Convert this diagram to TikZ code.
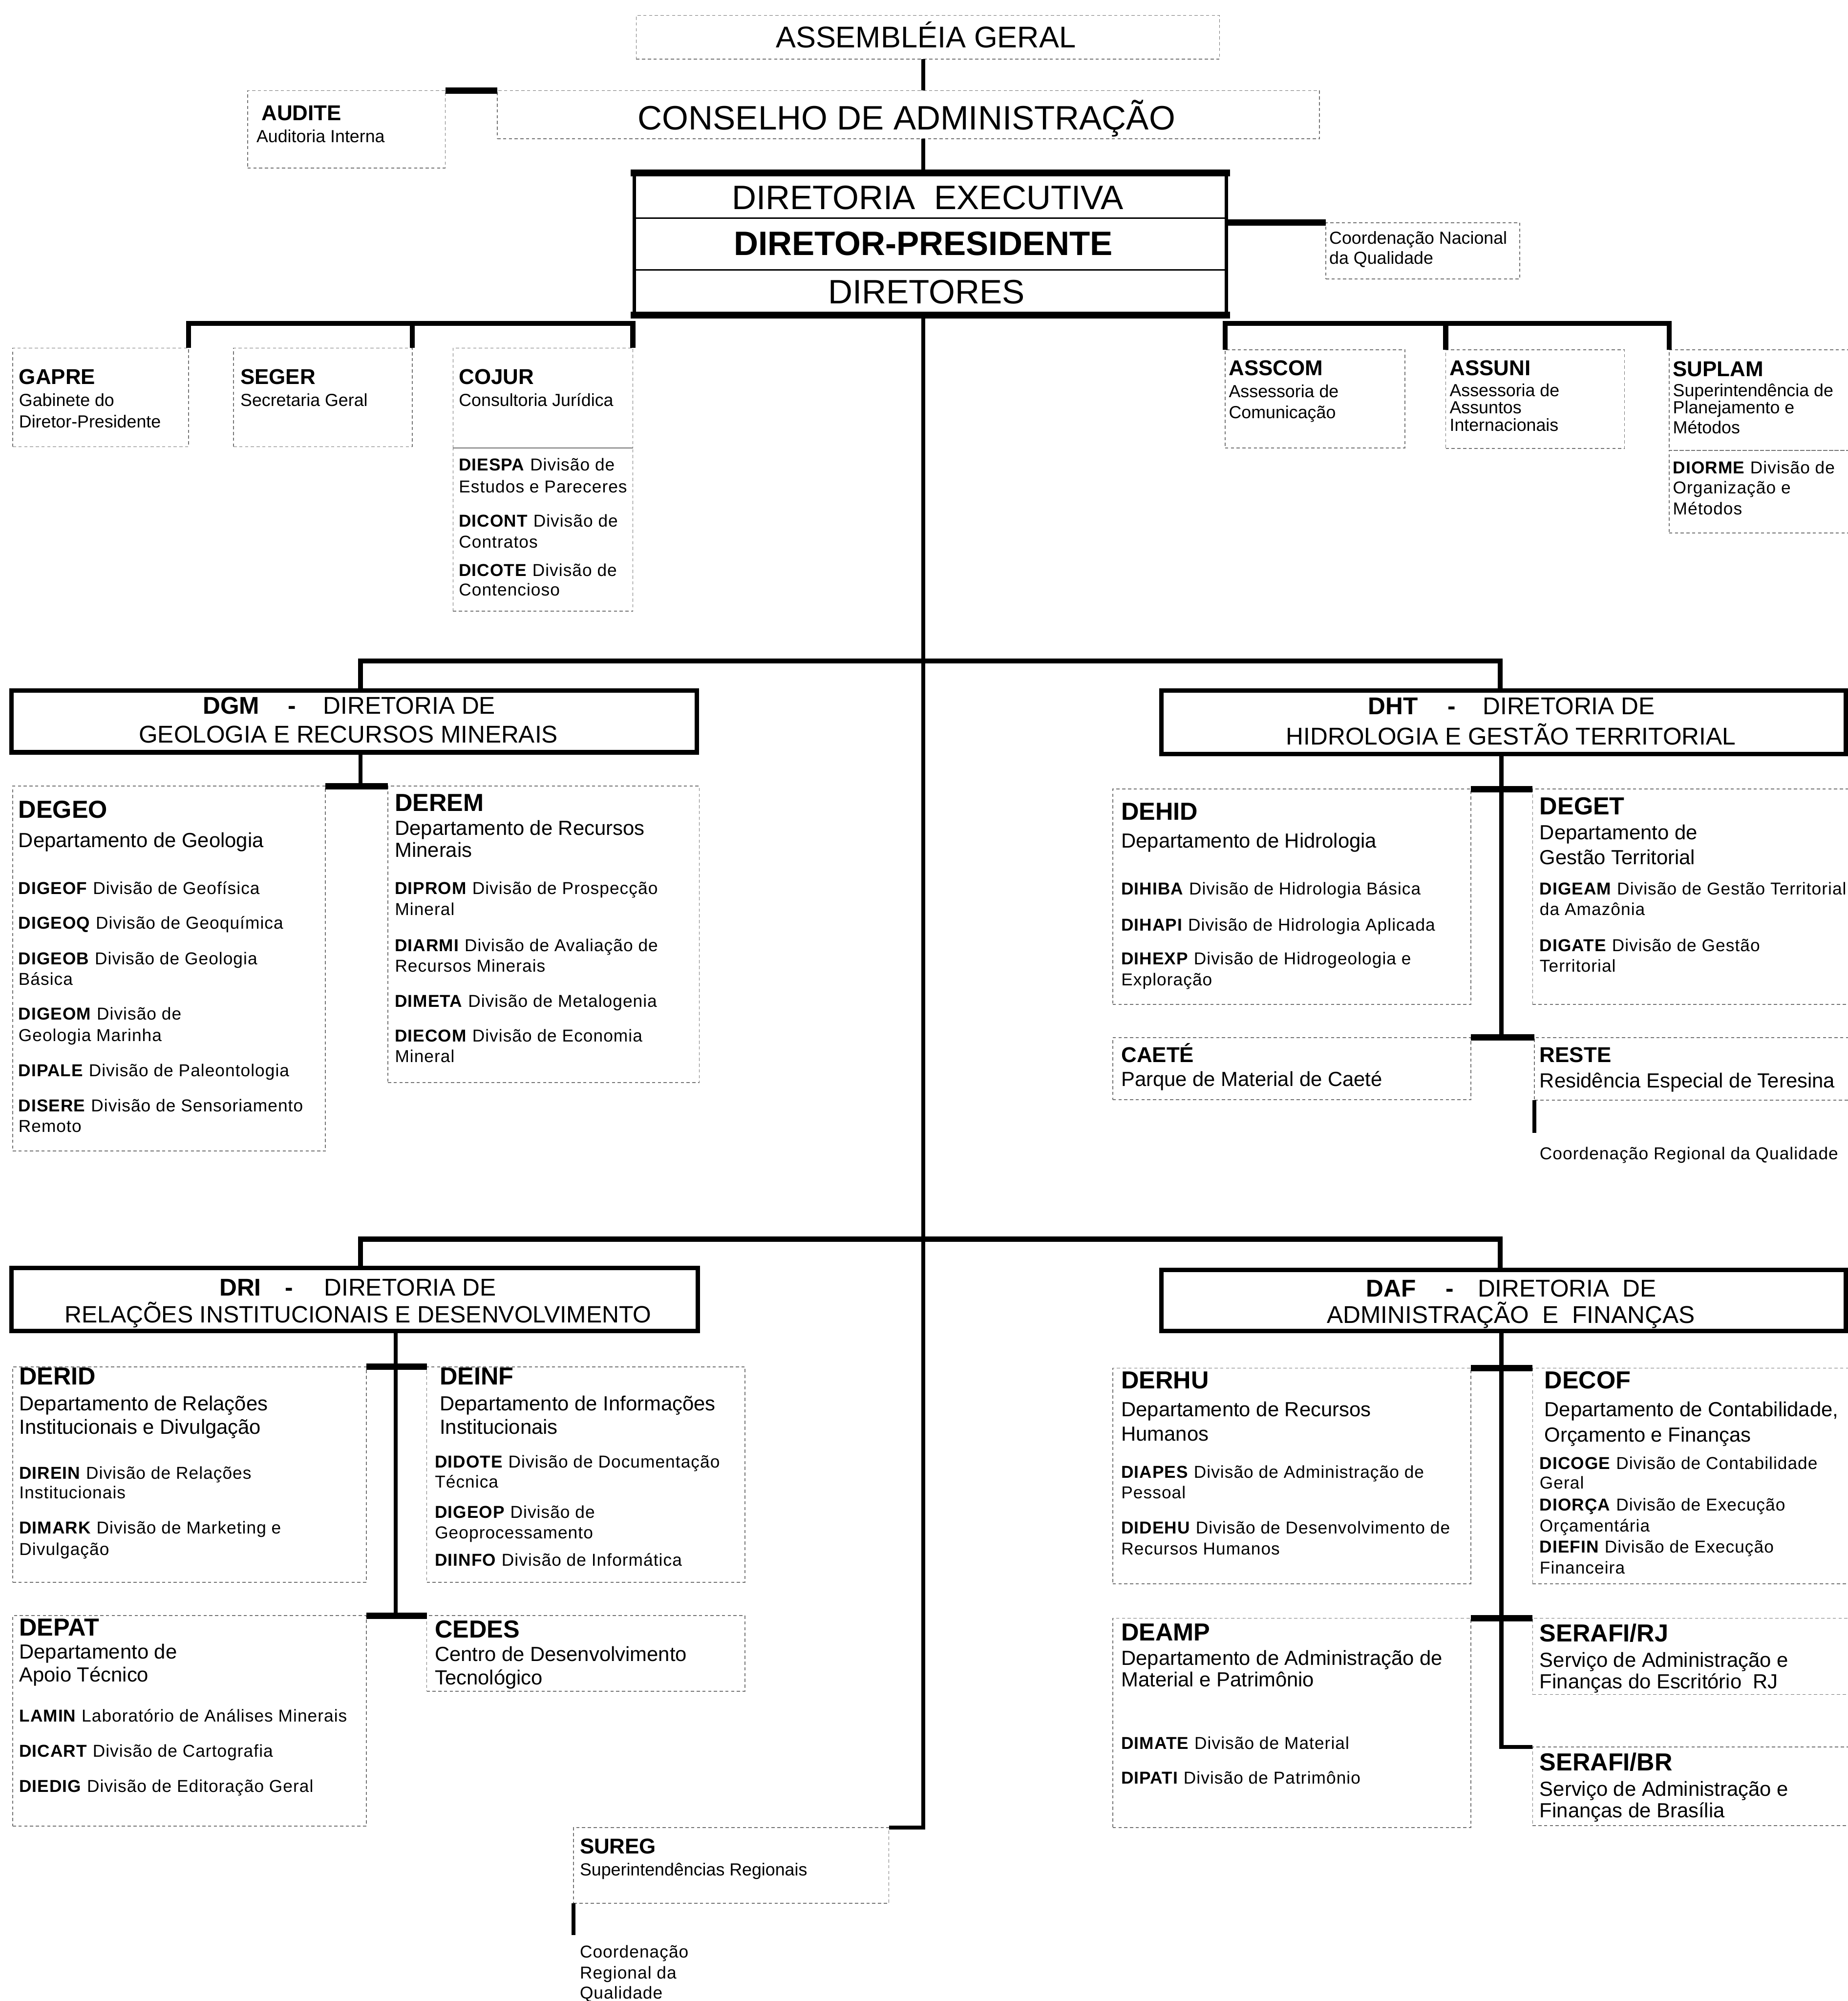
\documentclass[tikz,border=0pt]{standalone}
\usepackage{fontspec}
\setmainfont{Liberation Sans}
\newfontfamily\spfont[LetterSpace=3]{Liberation Sans}
\usetikzlibrary{calc}
\newcounter{tx}
\newcommand\tx[3][]{\stepcounter{tx}\node[lbl,#1] (t\arabic{tx}) at (#2) {#3};}
\newcommand\orgbox[6][]{\node[#1,minimum width={(#5)-(#3)},minimum height={(#6)-(#4)}] (#2) at (#3,#4) {};}
\tikzset{
 lbl/.style={anchor=base west,inner sep=0pt,outer sep=0pt},
 cen/.style={anchor=base},
 big/.style={font=\fontsize{26.5}{30}\selectfont},
 bigb/.style={font=\fontsize{26.5}{30}\selectfont\bfseries},
 asmf/.style={font=\fontsize{23.5}{28}\selectfont},
 ttl/.style={font=\fontsize{19}{22}\selectfont},
 ttlb/.style={font=\fontsize{19}{22}\selectfont\bfseries},
 ucode/.style={font=\fontsize{16.8}{20}\selectfont\bfseries},
 dcode/.style={font=\fontsize{19.3}{22}\selectfont\bfseries},
 dname/.style={font=\fontsize{16}{19}\selectfont},
 sn/.style={font=\fontsize{13.7}{16}\selectfont},
 sm/.style={font=\spfont\fontsize{13.5}{16}\selectfont},
 dbox/.style={draw=black!55,line width=0.6pt,dash pattern=on 2.5pt off 2pt,anchor=north west,inner sep=0pt,outer sep=0pt},
 tbox/.style={draw=black,line width=3.5pt,anchor=north west,inner sep=0pt,outer sep=0pt},
 conn/.style={draw=black,line width=3.2pt},
 bus/.style={draw=black,line width=4pt},
 stub/.style={draw=black,line width=5pt},
}
\begin{document}
\begin{tikzpicture}[x=1pt,y=-1pt]
\useasboundingbox (0,0) rectangle (1448,1568);
\fill[white] (0,0) rectangle (1448,1568);

% ---------- boxes ----------
\orgbox[dbox]{asm}{498.6}{12.1}{955.7}{46.4}
\orgbox[dbox]{cons}{389.7}{71}{1034}{108.7}
\orgbox[dbox]{aud}{194}{71}{349}{131.6}
\orgbox[tbox,line width=2.5pt]{dir}{497}{135.5}{961}{247}
\orgbox[dbox]{cnq}{1039}{174.5}{1191}{218.5}
\orgbox[dbox]{gapre}{10}{272.7}{147.7}{350}
\orgbox[dbox]{seger}{183}{272.7}{323}{350}
\orgbox[dbox]{cojur}{355}{272.7}{496}{351}
\orgbox[dbox]{cojdiv}{355}{351}{496}{479}
\orgbox[dbox]{asscom}{960}{274}{1101}{351}
\orgbox[dbox]{assuni}{1133}{274}{1273}{351.5}
\orgbox[dbox]{suplam}{1308}{274}{1452}{353}
\orgbox[dbox]{diorme}{1308}{353}{1452}{417.6}

\orgbox[tbox]{dgm}{9}{541}{546}{589.5}
\orgbox[dbox]{degeo}{10}{616}{255}{902}
\orgbox[dbox]{derem}{304}{616}{548}{848.4}

\orgbox[tbox]{dht}{910}{541}{1446.5}{591}
\orgbox[dbox]{dehid}{872}{618.3}{1152.6}{787}
\orgbox[dbox]{deget}{1201}{618.3}{1452}{787}
\orgbox[dbox]{caete}{872}{813}{1152.6}{861.8}
\orgbox[dbox]{reste}{1202.5}{813}{1452}{862}

\orgbox[tbox]{dri}{9}{993.5}{547}{1043}
\orgbox[dbox]{derid}{10}{1071}{287}{1240}
\orgbox[dbox]{deinf}{334.4}{1071}{583.7}{1240}
\orgbox[dbox]{depat}{10}{1266}{287}{1431}
\orgbox[dbox]{cedes}{334.4}{1266}{583.7}{1325.2}

\orgbox[tbox]{daf}{910}{995}{1446.5}{1043}
\orgbox[dbox]{derhu}{872}{1072}{1152.6}{1241}
\orgbox[dbox]{decof}{1201}{1072}{1452}{1241}
\orgbox[dbox]{deamp}{872}{1268}{1152.6}{1432}
\orgbox[dbox]{serrj}{1201}{1268}{1452}{1327.7}
\orgbox[dbox]{serbr}{1201}{1369}{1452}{1430.5}
\orgbox[dbox]{sureg}{449.5}{1432}{696.6}{1491.4}

% DIRETORIA box extras
\coordinate (d1) at (0,171);
\coordinate (d2) at (0,211.5);
\draw[line width=5.5pt,line cap=rect] (dir.north west) -- (dir.north east);
\draw[line width=5.5pt,line cap=rect] (dir.south west) -- (dir.south east);
\draw[line width=1.3pt] (dir.west |- d1) -- (dir.east |- d1);
\draw[line width=1.1pt] (dir.west |- d2) -- (dir.east |- d2);

% ---------- connectors ----------
\coordinate (cx) at (723.5,0);
\coordinate (busT) at (0,253.5);
\coordinate (bus1) at (0,518);
\coordinate (bus2) at (0,971);
\coordinate (xL) at (282.5,0);
\coordinate (xR) at (1175.5,0);
\coordinate (xL2) at (310,0);
\coordinate (xR2) at (1176.5,0);

\draw[conn] (asm.south -| cx) -- (cons.north -| cx);
\draw[conn] (cons.south -| cx) -- (dir.north -| cx);
\draw[stub] (aud.north east) -- (cons.north west);
\draw[stub] (dir.east |- cnq.north west) -- (cnq.north west);

\draw[bus] (gapre.north east) -- (gapre.north east |- busT) -- (cojur.north east |- busT) -- (cojur.north east);
\draw[bus] (seger.north east) -- (seger.north east |- busT);
\draw[bus] (asscom.north west) -- (asscom.north west |- busT) -- (suplam.north west |- busT) -- (suplam.north west);
\draw[bus] (assuni.north west) -- (assuni.north west |- busT);

\draw[conn] (dir.south -| cx) -- (cx |- sureg.north east) -- (sureg.north east);

\draw[bus] (xL |- dgm.north) -- (xL |- bus1) -- (xR |- bus1) -- (xR |- dht.north);
\draw[bus] (xL |- dri.north) -- (xL |- bus2) -- (xR |- bus2) -- (xR |- daf.north);

\draw[conn] (xL |- dgm.south) -- (xL |- degeo.north);
\draw[stub] (degeo.north east) -- (derem.north west);

\draw[conn] (xR2 |- dht.south) -- (xR2 |- caete.north);
\draw[stub] (dehid.north east) -- (deget.north west);
\draw[stub] (caete.north east) -- (reste.north west);

\draw[conn] (xL2 |- dri.south) -- (xL2 |- depat.north);
\draw[stub] (derid.north east) -- (deinf.north west);
\draw[stub] (depat.north east) -- (cedes.north west);

\draw[conn] (xR2 |- daf.south) |- (serbr.north west);
\draw[stub] (derhu.north east) -- (decof.north west);
\draw[stub] (deamp.north east) -- (serrj.north west);

% ---------- texts ----------
\node[lbl,asmf,cen] (asmT) at (725.5,37.5) {ASSEMBLÉIA GERAL};
\node[lbl,big,cen] (consT) at (710.5,101.5) {CONSELHO DE ADMINISTRAÇÃO};
\node[lbl,big,cen] (dexeT) at (727,164) {DIRETORIA\ \ EXECUTIVA};
\node[lbl,bigb,cen] (dpresT) at (723.5,200) {DIRETOR-PRESIDENTE};
\node[lbl,big,cen] (dtorT) at (726,238) {DIRETORES};

\tx[ucode]{205,94.3}{AUDITE}
\tx[sn]{201,111.7}{Auditoria Interna}
\tx[sn]{1041.7,191.3}{Coordenação Nacional}
\tx[sn]{1041.7,206.9}{da Qualidade}

\tx[ucode]{14.9,301}{GAPRE}
\tx[sn]{14.9,318.4}{Gabinete do}
\tx[sn]{14.9,335}{Diretor-Presidente}
\tx[ucode]{188.4,301}{SEGER}
\tx[sn]{188.4,318.4}{Secretaria Geral}
\tx[ucode]{359.6,301}{COJUR}
\tx[sn]{359.6,318.4}{Consultoria Jurídica}
\tx[sm]{359.6,369}{\textbf{DIESPA} Divisão de}
\tx[sm]{359.6,386}{Estudos e Pareceres}
\tx[sm]{359.6,413}{\textbf{DICONT} Divisão de}
\tx[sm]{359.6,429.5}{Contratos}
\tx[sm]{359.6,451.4}{\textbf{DICOTE} Divisão de}
\tx[sm]{359.6,467}{Contencioso}

\tx[ucode]{963,294}{ASSCOM}
\tx[sn]{963,311.3}{Assessoria de}
\tx[sn]{963,328}{Comunicação}
\tx[ucode]{1136,294.3}{ASSUNI}
\tx[sn]{1136,310.5}{Assessoria de}
\tx[sn]{1136,324}{Assuntos}
\tx[sn]{1136,337.8}{Internacionais}
\tx[ucode]{1311,294.8}{SUPLAM}
\tx[sn]{1311,310.5}{Superintendência de}
\tx[sn]{1311,324.2}{Planejamento e}
\tx[sn]{1311,339.7}{Métodos}
\tx[sm]{1311,371}{\textbf{DIORME} Divisão de}
\tx[sm]{1311,387}{Organização e}
\tx[sm]{1311,403.4}{Métodos}

% DGM
\tx[ttlb]{159,559.4}{DGM}
\tx[ttlb,cen]{229,559.4}{-}
\tx[ttl]{253.4,559.4}{DIRETORIA DE}
\tx[ttl,cen]{273,582}{GEOLOGIA E RECURSOS MINERAIS}
\tx[dcode]{14.5,641}{DEGEO}
\tx[dname]{14.5,663.8}{Departamento de Geologia}
\tx[sm]{14.5,700.7}{\textbf{DIGEOF} Divisão de Geofísica}
\tx[sm]{14.5,728}{\textbf{DIGEOQ} Divisão de Geoquímica}
\tx[sm]{14.5,756}{\textbf{DIGEOB} Divisão de Geologia}
\tx[sm]{14.5,772}{Básica}
\tx[sm]{14.5,799}{\textbf{DIGEOM} Divisão de}
\tx[sm]{14.5,815.8}{Geologia Marinha}
\tx[sm]{14.5,843.6}{\textbf{DIPALE} Divisão de Paleontologia}
\tx[sm]{14.5,871}{\textbf{DISERE} Divisão de Sensoriamento}
\tx[sm]{14.5,887}{Remoto}
\tx[dcode]{309.5,635.7}{DEREM}
\tx[dname]{309.5,654.4}{Departamento de Recursos}
\tx[dname]{309.5,671.8}{Minerais}
\tx[sm]{309.5,700.7}{\textbf{DIPROM} Divisão de Prospecção}
\tx[sm]{309.5,717.3}{Mineral}
\tx[sm]{309.5,745.4}{\textbf{DIARMI} Divisão de Avaliação de}
\tx[sm]{309.5,761.5}{Recursos Minerais}
\tx[sm]{309.5,789}{\textbf{DIMETA} Divisão de Metalogenia}
\tx[sm]{309.5,816.3}{\textbf{DIECOM} Divisão de Economia}
\tx[sm]{309.5,832.4}{Mineral}

% DHT
\tx[ttlb]{1072,560}{DHT}
\tx[ttlb,cen]{1137.5,560}{-}
\tx[ttl]{1162,560}{DIRETORIA DE}
\tx[ttl,cen]{1184,583.5}{HIDROLOGIA E GESTÃO TERRITORIAL}
\tx[dcode]{878.7,642.4}{DEHID}
\tx[dname]{878.7,664.3}{Departamento de Hidrologia}
\tx[sm]{878.7,701.2}{\textbf{DIHIBA} Divisão de Hidrologia Básica}
\tx[sm]{878.7,729.3}{\textbf{DIHAPI} Divisão de Hidrologia Aplicada}
\tx[sm]{878.7,756}{\textbf{DIHEXP} Divisão de Hidrogeologia e}
\tx[sm]{878.7,772.2}{Exploração}
\tx[dcode]{1206.6,638.4}{DEGET}
\tx[dname]{1206.6,658}{Departamento de}
\tx[dname]{1206.6,677.2}{Gestão Territorial}
\tx[sm]{1206.6,701.2}{\textbf{DIGEAM} Divisão de Gestão Territorial}
\tx[sm]{1206.6,717.3}{da Amazônia}
\tx[sm]{1206.6,745.4}{\textbf{DIGATE} Divisão de Gestão}
\tx[sm]{1206.6,761.5}{Territorial}
\tx[ucode]{878.7,832.4}{CAETÉ}
\tx[dname]{878.7,851.1}{Parque de Material de Caeté}
\tx[ucode]{1206.6,832.4}{RESTE}
\tx[dname]{1206.6,852.4}{Residência Especial de Teresina}
\node[lbl,sm] (crq) at (1206.6,908.6) {Coordenação Regional da Qualidade};
\draw[conn,shorten >=11pt] (reste.south west) -- (reste.south west |- crq.north);

% DRI
\tx[ttlb]{172,1015.5}{DRI}
\tx[ttlb,cen]{226.5,1015.5}{-}
\tx[ttl]{254,1015.5}{DIRETORIA DE}
\tx[ttl,cen,font=\fontsize{18.5}{22}\selectfont]{280.5,1036.5}{RELAÇÕES INSTITUCIONAIS E DESENVOLVIMENTO}
\tx[dcode]{15.1,1085.2}{DERID}
\tx[dname]{15.1,1105.2}{Departamento de Relações}
\tx[dname]{15.1,1123.6}{Institucionais e Divulgação}
\tx[sm]{15.1,1158.9}{\textbf{DIREIN} Divisão de Relações}
\tx[sm]{15.1,1174.2}{Institucionais}
\tx[sm]{15.1,1201.9}{\textbf{DIMARK} Divisão de Marketing e}
\tx[sm]{15.1,1218.7}{Divulgação}
\tx[dcode]{344.6,1085.2}{DEINF}
\tx[dname]{344.6,1105.2}{Departamento de Informações}
\tx[dname]{344.6,1123.6}{Institucionais}
\tx[sm]{340.8,1150.3}{\textbf{DIDOTE} Divisão de Documentação}
\tx[sm]{340.8,1166}{Técnica}
\tx[sm]{340.8,1189.6}{\textbf{DIGEOP} Divisão de}
\tx[sm]{340.8,1205.5}{Geoprocessamento}
\tx[sm]{340.8,1227}{\textbf{DIINFO} Divisão de Informática}
\tx[dcode]{15.1,1281.7}{DEPAT}
\tx[dname]{15.1,1300}{Departamento de}
\tx[dname]{15.1,1317.9}{Apoio Técnico}
\tx[sm]{15.1,1349.2}{\textbf{LAMIN} Laboratório de Análises Minerais}
\tx[sm]{15.1,1376.8}{\textbf{DICART} Divisão de Cartografia}
\tx[sm]{15.1,1404.4}{\textbf{DIEDIG} Divisão de Editoração Geral}
\tx[dcode]{340.8,1283.2}{CEDES}
\tx[dname]{340.8,1301.6}{Centro de Desenvolvimento}
\tx[dname]{340.8,1320}{Tecnológico}

% DAF
\tx[ttlb]{1070.6,1016.2}{DAF}
\tx[ttlb,cen]{1136,1016.2}{-}
\tx[ttl]{1158,1016.2}{DIRETORIA\ \ DE}
\tx[ttl,cen]{1184,1036.8}{ADMINISTRAÇÃO\ \ E\ \ FINANÇAS}
\tx[dcode]{878.7,1088.3}{DERHU}
\tx[dname]{878.7,1109.8}{Departamento de Recursos}
\tx[dname]{878.7,1129.1}{Humanos}
\tx[sm]{878.7,1158.3}{\textbf{DIAPES} Divisão de Administração de}
\tx[sm]{878.7,1174.2}{Pessoal}
\tx[sm]{878.7,1201.9}{\textbf{DIDEHU} Divisão de Desenvolvimento de}
\tx[sm]{878.7,1218.1}{Recursos Humanos}
\tx[dcode]{1210.3,1088.3}{DECOF}
\tx[dname]{1210.3,1109.8}{Departamento de Contabilidade,}
\tx[dname]{1210.3,1129.7}{Orçamento e Finanças}
\tx[sm]{1206.6,1151.2}{\textbf{DICOGE} Divisão de Contabilidade}
\tx[sm]{1206.6,1166.6}{Geral}
\tx[sm]{1206.6,1184}{\textbf{DIORÇA} Divisão de Execução}
\tx[sm]{1206.6,1200.3}{Orçamentária}
\tx[sm]{1206.6,1216.6}{\textbf{DIEFIN} Divisão de Execução}
\tx[sm]{1206.6,1233.2}{Financeira}
\tx[dcode]{878.7,1285.6}{DEAMP}
\tx[dname]{878.7,1304.7}{Departamento de Administração de}
\tx[dname]{878.7,1321.6}{Material e Patrimônio}
\tx[sm]{878.7,1370.7}{\textbf{DIMATE} Divisão de Material}
\tx[sm]{878.7,1397.7}{\textbf{DIPATI} Divisão de Patrimônio}
\tx[dcode]{1206.6,1286.3}{SERAFI/RJ}
\tx[dname]{1206.6,1306.2}{Serviço de Administração e}
\tx[dname]{1206.6,1323.1}{Finanças do Escritório\ \ RJ}
\tx[dcode]{1206.6,1387.5}{SERAFI/BR}
\tx[dname]{1206.6,1407.5}{Serviço de Administração e}
\tx[dname]{1206.6,1424.4}{Finanças de Brasília}

% SUREG
\tx[ucode]{454.4,1452.5}{SUREG}
\tx[sn]{454.4,1469.9}{Superintendências Regionais}
\node[lbl,sm] (crq2) at (454.4,1534) {Coordenação};
\tx[sm]{454.4,1550.4}{Regional da}
\tx[sm]{454.4,1566.3}{Qualidade}
\draw[conn,shorten >=8pt] (sureg.south west) -- (sureg.south west |- crq2.north);
\end{tikzpicture}
\end{document}
